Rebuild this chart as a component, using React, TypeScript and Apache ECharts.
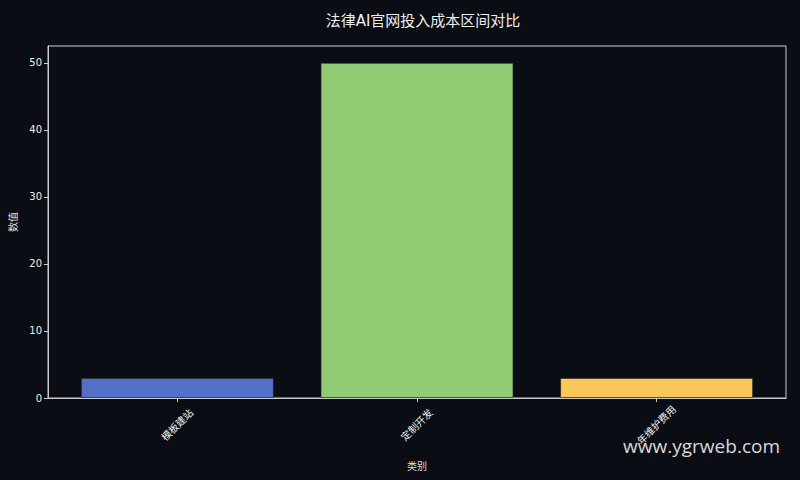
import React, { useEffect, useRef } from 'react';
import * as echarts from 'echarts';

const categories = ['模板建站', '定制开发', '年维护费用'];
const values = [3, 50, 3];
const barColors = ['#5470c6', '#91cc75', '#fac858'];
const yTicks = [0, 10, 20, 30, 40, 50];

const FONT = 'DejaVu Sans, "Noto Sans CJK SC", sans-serif';

const App: React.FC = () => {
  const chartRef = useRef<HTMLDivElement>(null);

  useEffect(() => {
    if (!chartRef.current) return;
    const chart = echarts.init(chartRef.current, undefined, { renderer: 'svg' });

    chart.setOption({
      animation: false,
      backgroundColor: '#0b0d14',
      title: {
        text: '法律AI官网投入成本区间对比',
        left: 418,
        top: 8,
        textAlign: 'center',
        textStyle: { color: '#eeeeee', fontSize: 15, fontWeight: 'normal', fontFamily: FONT },
      },
      grid: {
        left: 46,
        right: 14,
        top: 46,
        bottom: 82,
        show: true,
        borderColor: '#cccccc',
        borderWidth: 1,
        backgroundColor: 'transparent',
      },
      xAxis: {
        type: 'value',
        min: -0.54,
        max: 2.54,
        name: '类别',
        nameLocation: 'middle',
        nameGap: 63,
        nameTextStyle: { color: '#dddddd', fontSize: 10, fontFamily: FONT },
        splitLine: { show: false },
        axisLine: { show: true, onZero: false, lineStyle: { color: '#cccccc' } },
        axisTick: {
          show: true,
          length: 4,
          customValues: categories.map((_, i) => i),
          lineStyle: { color: '#cccccc' },
        },
        axisLabel: {
          customValues: categories.map((_, i) => i),
          formatter: (v: number) => categories[Math.round(v)] ?? '',
          rotate: 45,
          align: 'center',
          verticalAlign: 'middle',
          color: '#eeeeee',
          fontSize: 10,
          margin: 27,
          fontFamily: FONT,
        },
      },
      yAxis: {
        type: 'value',
        min: 0,
        max: 52.5,
        name: '数值',
        nameLocation: 'middle',
        nameGap: 30,
        nameTextStyle: { color: '#dddddd', fontSize: 10, fontFamily: FONT },
        splitLine: { show: false },
        axisLine: { show: true, onZero: false, lineStyle: { color: '#cccccc' } },
        axisTick: { show: true, length: 4, customValues: yTicks, lineStyle: { color: '#cccccc' } },
        axisLabel: {
          customValues: yTicks,
          color: '#eeeeee',
          fontSize: 10,
          margin: 6,
          fontFamily: FONT,
        },
      },
      series: [
        {
          type: 'bar',
          barWidth: 193,
          data: categories.map((_, i) => ({
            value: [i, values[i]],
            itemStyle: {
              color: barColors[i],
              borderColor: 'rgba(30,30,40,0.6)',
              borderWidth: 1,
            },
          })),
        },
      ],
      graphic: [
        {
          type: 'text',
          right: 20,
          top: 436,
          style: {
            text: 'www.ygrweb.com',
            fill: '#d8d8d8',
            fontSize: 19,
            fontFamily: '"Open Sans", sans-serif',
          },
        },
      ],
    });

    return () => {
      chart.dispose();
    };
  }, []);

  return (
    <div
      ref={chartRef}
      style={{ position: 'fixed', left: 0, top: 0, width: '800px', height: '480px' }}
    />
  );
};

export default App;
